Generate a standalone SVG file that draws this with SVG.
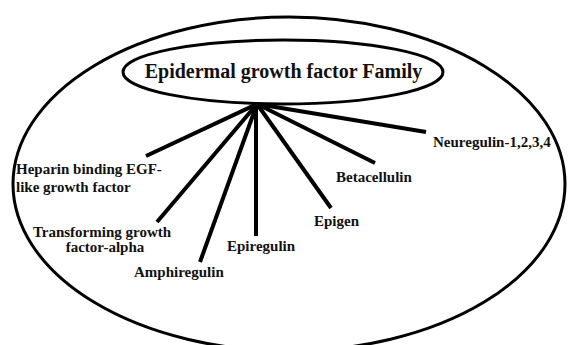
<svg xmlns="http://www.w3.org/2000/svg" width="568" height="345" viewBox="0 0 568 345">
<style>
.shape{fill:none;stroke:#000;stroke-width:3}
.conn{stroke:#000;stroke-width:4;stroke-linecap:butt}
.lbl{font-family:"Liberation Serif","Times New Roman",serif;font-weight:bold;font-size:15px;fill:#111}
.title{font-family:"Liberation Serif","Times New Roman",serif;font-weight:bold;font-size:20px;fill:#111}
</style>
<rect width="568" height="345" fill="#fff"/>
<g id="outer">
<ellipse class="shape" cx="289" cy="184" rx="276" ry="167"/>
</g>
<g id="connectors">
<line class="conn" x1="257" y1="104" x2="146" y2="156"/>
<line class="conn" x1="257" y1="104" x2="157" y2="222"/>
<line class="conn" x1="257" y1="104" x2="200" y2="262"/>
<line class="conn" x1="256" y1="104" x2="256" y2="236"/>
<line class="conn" x1="257" y1="104" x2="331" y2="208"/>
<line class="conn" x1="257" y1="104" x2="375" y2="163"/>
<line class="conn" x1="257" y1="104" x2="426" y2="132"/>
</g>
<g id="title">
<ellipse class="shape" cx="283" cy="72" rx="160" ry="32"/>
<text class="title" x="283.5" y="78" text-anchor="middle">Epidermal growth factor Family</text>
</g>
<g id="heparin">
<text class="lbl" x="16" y="174">Heparin binding EGF-</text>
<text class="lbl" x="16" y="192">like growth factor</text>
</g>
<g id="tgf">
<text class="lbl" x="102" y="237" text-anchor="middle">Transforming growth</text>
<text class="lbl" x="105" y="252" text-anchor="middle">factor-alpha</text>
</g>
<g id="amphiregulin">
<text class="lbl" x="134" y="277">Amphiregulin</text>
</g>
<g id="epiregulin">
<text class="lbl" x="227" y="251">Epiregulin</text>
</g>
<g id="epigen">
<text class="lbl" x="314" y="226">Epigen</text>
</g>
<g id="betacellulin">
<text class="lbl" x="336" y="182">Betacellulin</text>
</g>
<g id="neuregulin">
<text class="lbl" x="433" y="147">Neuregulin-1,2,3,4</text>
</g>
</svg>
